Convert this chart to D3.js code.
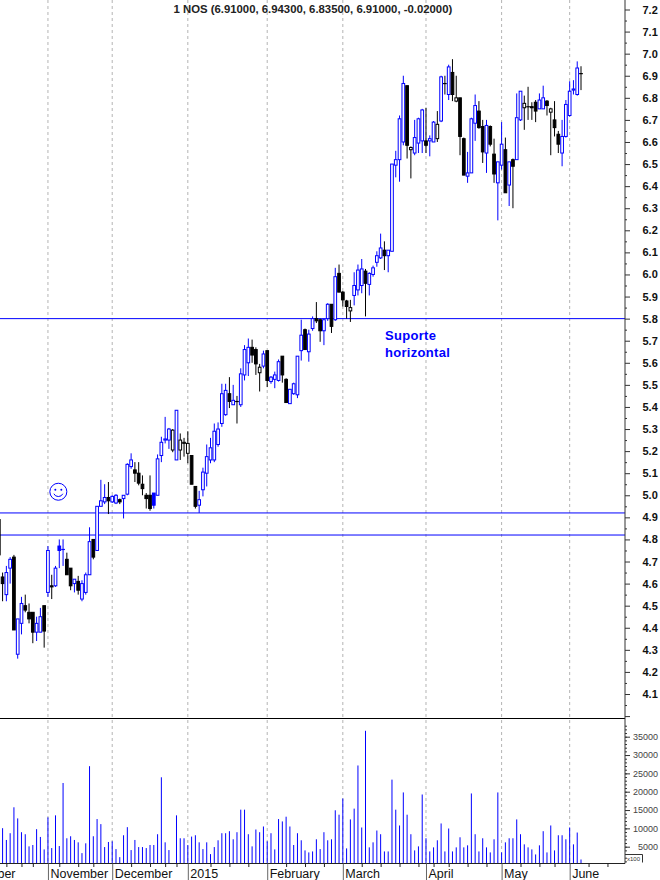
<!DOCTYPE html>
<html>
<head>
<meta charset="utf-8">
<script src="https://cdn.jsdelivr.net/npm/d3@7"></script>
<style>
  html, body { margin: 0; padding: 0; background: #fff; overflow: hidden; }
  svg { display: block; }
</style>
</head>
<body>
<div id="chart"></div>
<script>
/* Price series, one entry per session slot */
const opens = [4.89,4.63,4.55,4.67,4.72,4.28,4.42,4.50,4.47,4.47,4.38,4.38,4.50,4.56,4.59,4.59,4.77,4.755,4.71,4.67,4.60,4.61,4.53,4.56,4.64,4.80,4.75,4.95,4.97,4.99,4.97,4.965,4.98,4.985,5.005,5.13,5.115,5.10,5.05,5.00,5.00,5.01,5.00,5.18,5.25,5.25,5.205,5.16,5.205,5.235,5.19,5.18,5.04,4.955,5.025,5.10,5.16,5.16,5.23,5.325,5.365,5.46,5.41,5.425,5.41,5.545,5.60,5.67,5.66,5.555,5.585,5.655,5.515,5.525,5.52,5.63,5.525,5.415,5.46,5.455,5.655,5.75,5.65,5.755,5.80,5.795,5.745,5.80,5.865,5.795,6.005,5.92,5.88,5.835,5.905,5.93,5.95,6.015,5.955,6.00,6.055,6.075,6.11,6.085,6.105,6.495,6.52,6.60,6.855,6.565,6.55,6.595,6.605,6.605,6.605,6.60,6.615,6.695,6.865,6.815,6.915,6.785,6.80,6.615,6.445,6.46,6.685,6.74,6.67,6.55,6.67,6.545,6.415,6.495,6.565,6.405,6.52,6.52,6.70,6.755,6.76,6.76,6.78,6.75,6.75,6.785,6.735,6.70,6.635,6.55,6.625,6.72,6.835,6.815,6.91];
const highs = [4.89,4.65,4.68,4.72,4.73,4.44,4.54,4.55,4.51,4.47,4.45,4.49,4.50,4.77,4.64,4.68,4.80,4.80,4.74,4.67,4.62,4.635,4.615,4.65,4.855,4.80,4.95,5.07,5.05,5.06,5.00,5.005,4.985,5.00,5.145,5.19,5.15,5.15,5.09,5.01,5.09,5.01,5.185,5.265,5.355,5.305,5.30,5.385,5.28,5.26,5.29,5.18,5.04,5.02,5.125,5.23,5.26,5.325,5.33,5.505,5.505,5.535,5.50,5.45,5.575,5.68,5.71,5.705,5.67,5.595,5.655,5.655,5.54,5.56,5.615,5.63,5.53,5.48,5.51,5.63,5.795,5.755,5.75,5.81,5.875,5.80,5.80,5.87,5.865,6.03,6.045,5.925,5.885,5.885,6.01,6.045,6.07,6.025,6.01,6.04,6.105,6.185,6.15,6.11,6.50,6.56,6.72,6.90,6.855,6.58,6.70,6.71,6.75,6.755,6.63,6.695,6.74,6.90,6.90,6.95,6.975,6.90,6.80,6.62,6.555,6.71,6.815,6.785,6.70,6.70,6.675,6.615,6.51,6.69,6.62,6.51,6.525,6.82,6.83,6.81,6.85,6.78,6.79,6.82,6.855,6.79,6.755,6.785,6.65,6.70,6.79,6.875,6.88,6.965,6.943];
const lows = [4.73,4.52,4.52,4.60,4.39,4.26,4.37,4.47,4.42,4.33,4.34,4.38,4.31,4.54,4.53,4.585,4.67,4.68,4.64,4.57,4.56,4.55,4.52,4.55,4.64,4.71,4.75,4.95,4.96,4.915,4.965,4.96,4.96,4.895,5.00,5.12,5.06,5.045,5.00,4.94,4.93,4.94,5.00,5.15,5.235,5.21,5.195,5.16,5.16,5.175,5.145,5.05,4.94,4.92,4.995,5.04,5.145,5.15,5.22,5.31,5.36,5.395,5.41,5.325,5.40,5.52,5.54,5.60,5.545,5.47,5.575,5.49,5.505,5.485,5.515,5.51,5.42,5.415,5.455,5.44,5.61,5.66,5.605,5.745,5.78,5.695,5.68,5.79,5.735,5.79,5.92,5.855,5.80,5.785,5.86,5.905,5.915,5.81,5.905,5.99,6.035,6.07,6.02,6.01,6.105,6.44,6.42,6.585,6.525,6.435,6.54,6.55,6.55,6.55,6.535,6.60,6.60,6.69,6.815,6.79,6.785,6.78,6.54,6.45,6.415,6.46,6.605,6.66,6.505,6.46,6.58,6.415,6.245,6.475,6.37,6.31,6.30,6.52,6.695,6.655,6.70,6.70,6.69,6.75,6.75,6.72,6.54,6.625,6.55,6.49,6.62,6.715,6.815,6.81,6.835];
const closes = [4.73,4.60,4.65,4.71,4.39,4.44,4.51,4.48,4.44,4.38,4.42,4.45,4.385,4.75,4.585,4.67,4.75,4.755,4.64,4.59,4.62,4.57,4.60,4.64,4.79,4.72,4.95,4.975,4.99,4.975,4.995,5.00,4.97,5.00,5.14,5.16,5.10,5.055,5.03,4.985,4.94,4.955,5.165,5.24,5.255,5.30,5.295,5.385,5.25,5.24,5.235,5.05,4.95,4.98,5.105,5.175,5.215,5.29,5.30,5.46,5.475,5.425,5.43,5.425,5.55,5.66,5.67,5.635,5.595,5.58,5.64,5.52,5.535,5.545,5.605,5.545,5.42,5.48,5.505,5.63,5.725,5.66,5.73,5.80,5.79,5.745,5.795,5.865,5.765,5.99,5.92,5.885,5.855,5.85,5.95,6.02,6.025,5.96,6.005,6.03,6.085,6.12,6.085,6.11,6.50,6.52,6.705,6.865,6.585,6.575,6.62,6.705,6.745,6.585,6.615,6.69,6.68,6.895,6.865,6.94,6.815,6.80,6.625,6.45,6.46,6.705,6.765,6.665,6.555,6.675,6.59,6.455,6.51,6.59,6.37,6.51,6.49,6.71,6.83,6.775,6.76,6.755,6.74,6.79,6.80,6.765,6.75,6.665,6.59,6.625,6.77,6.83,6.84,6.935,6.91];
const volumes = [null,10050,6840,8680,15750,12720,8950,8400,5090,5460,9780,7660,4260,13000,4630,13550,5180,22370,7300,7850,6840,6190,3250,5920,26960,7850,12540,11160,4900,6290,6470,4350,2150,8120,10330,4080,6840,4900,4900,4630,5460,5460,8400,23930,6190,4080,null,13550,7300,7300,5460,7760,8120,6190,4350,6190,2980,4900,6750,8680,8680,9230,7020,8950,15100,15100,8400,5090,9690,8950,10510,6470,8680,4260,12540,11890,13180,10510,5460,8680,6750,3990,3440,3710,7020,4350,8950,6750,7020,14930,13730,18140,4540,12440,15380,27150,10240,36610,4820,6190,9410,8400,3710,3710,23290,15100,10790,19800,13730,8400,3990,5090,19240,7300,3710,4820,6750,11340,3710,9960,3710,4820,7570,4820,5370,19520,8400,3710,7300,4820,3440,7020,19800,3440,6190,7300,7300,12440,8400,5640,4820,4260,2890,5370,9230,3440,10790,3990,8120,8120,7020,10240,5640,8860,1510];

/* Time axis */
const monthLabels = ['October', 'November', 'December', '2015', 'February', 'March', 'April', 'May', 'June'];
const monthSlots = [-8, 13, 30, 50, 71, 91, 113, 133, 151];
const weekSlots = [2, 6, 9, 16, 21, 25, 35, 40, 44, 47, 56, 61, 66, 76, 81, 86, 96, 101, 106, 111, 115, 119, 124, 129, 138, 143, 147, 156, 161];

/* Value axes */
const priceTicks = [7.2, 7.1, 7.0, 6.9, 6.8, 6.7, 6.6, 6.5, 6.4, 6.3, 6.2, 6.1, 6.0, 5.9, 5.8, 5.7, 5.6, 5.5, 5.4, 5.3, 5.2, 5.1, 5.0, 4.9, 4.8, 4.7, 4.6, 4.5, 4.4, 4.3, 4.2, 4.1];
const volumeTicks = [35000, 30000, 25000, 20000, 15000, 10000, 5000];

/* Annotations */
const supportLevels = [5.8, 4.92, 4.82];
const supportLabel = ['Suporte', 'horizontal'];
const title = '1 NOS (6.91000, 6.94300, 6.83500, 6.91000, -0.02000)';

const width = 660;
const height = 880;
const axisX = 625;
const volumeTop = 718.5;
const baseY = 863.5;
const BLUE = '#0000ff';

const x = d3.scaleLinear().domain([0, 154]).range([-1.2, 581]);
const yPrice = d3.scaleLinear().domain([4.1, 7.2]).range([694, 9.5]);
const yVolume = d3.scaleLinear().domain([5000, 35000]).range([846.7, 736.7]);

const svg = d3.select('#chart')
  .append('svg')
  .attr('width', width)
  .attr('height', height)
  .style('font-family', '"Liberation Sans", Arial, sans-serif');

drawGrid();
drawSupportLines();
drawCandles();
drawVolume();
drawPriceAxis();
drawVolumeAxis();
drawTimeAxis();
drawTexts();
drawSmiley(15.75, 5.016);

function drawGrid () {
  svg.append('g')
    .selectAll('line')
    .data(monthSlots)
    .join('line')
    .attr('x1', d => x(d))
    .attr('x2', d => x(d))
    .attr('y1', 0)
    .attr('y2', baseY)
    .attr('stroke', '#b4b4b4')
    .attr('stroke-dasharray', '3,3');
}

function drawSupportLines () {
  svg.append('g')
    .selectAll('line')
    .data(supportLevels)
    .join('line')
    .attr('x1', 0)
    .attr('x2', axisX)
    .attr('y1', d => yPrice(d))
    .attr('y2', d => yPrice(d))
    .attr('stroke', BLUE);
}

function drawCandles () {
  const bars = closes.map((close, i) => ({
    i,
    open: opens[i],
    high: highs[i],
    low: lows[i],
    close,
    // colour follows the previous close, fill follows the open
    color: i > 0 && close > closes[i - 1] ? BLUE : '#000'
  }));

  const candle = svg.append('g')
    .selectAll('g')
    .data(bars)
    .join('g');

  candle.append('line')
    .attr('x1', d => x(d.i))
    .attr('x2', d => x(d.i))
    .attr('y1', d => yPrice(d.high))
    .attr('y2', d => yPrice(d.low))
    .attr('stroke', d => d.color);

  candle.append('rect')
    .attr('x', d => x(d.i) - 1.35)
    .attr('width', 2.7)
    .attr('y', d => yPrice(Math.max(d.open, d.close)))
    .attr('height', d => Math.max(0.2, Math.abs(yPrice(d.open) - yPrice(d.close))))
    .attr('fill', d => d.close < d.open ? d.color : '#fff')
    .attr('stroke', d => d.color);
}

function drawVolume () {
  svg.append('g')
    .selectAll('line')
    .data(volumes.map((v, i) => ({ v, i })).filter(d => d.v !== null))
    .join('line')
    .attr('x1', d => x(d.i))
    .attr('x2', d => x(d.i))
    .attr('y1', d => yVolume(d.v))
    .attr('y2', baseY)
    .attr('stroke', BLUE);

  svg.append('line')
    .attr('x1', 0)
    .attr('x2', axisX)
    .attr('y1', volumeTop)
    .attr('y2', volumeTop)
    .attr('stroke', '#000');
}

function styleAxis (g, color) {
  g.select('.domain').remove();
  g.selectAll('line').attr('stroke', color);
}

function drawPriceAxis () {
  const axis = svg.append('g').attr('transform', `translate(${axisX},0)`);

  axis.append('g')
    .call(d3.axisRight(yPrice).tickValues(d3.range(4.05, 7.2, 0.1)).tickSize(2).tickFormat(''))
    .call(styleAxis, '#333');

  axis.append('g')
    .call(d3.axisRight(yPrice).tickValues(priceTicks.concat(4.0)).tickSize(5).tickFormat(d => d === 4 ? '' : d.toFixed(1)))
    .call(styleAxis, '#333')
    .call(g => g.selectAll('text')
      .attr('x', 17.5)
      .attr('font-size', 11)
      .attr('font-weight', 'bold')
      .attr('font-family', '"Liberation Sans", Arial, sans-serif')
      .attr('fill', '#111'));

  axis.append('line')
    .attr('y1', 0)
    .attr('y2', baseY)
    .attr('stroke', '#333');
}

function drawVolumeAxis () {
  const axis = svg.append('g').attr('transform', `translate(${axisX},0)`);

  axis.append('g')
    .call(d3.axisRight(yVolume).tickValues(d3.range(1000, 39000, 1000)).tickSize(2).tickFormat(''))
    .call(styleAxis, '#333');

  axis.append('g')
    .call(d3.axisRight(yVolume).tickValues(volumeTicks).tickSize(5).tickFormat(d => d))
    .call(styleAxis, '#333')
    .call(g => g.selectAll('text')
      .attr('x', 33)
      .attr('text-anchor', 'end')
      .attr('font-size', 9)
      .attr('font-family', '"Liberation Sans", Arial, sans-serif')
      .attr('fill', '#444'));

  // multiplier box in the corner
  svg.append('path')
    .attr('d', `M${axisX},854.5H642.5V862.5`)
    .attr('fill', 'none')
    .attr('stroke', '#333');

  svg.append('text')
    .attr('x', 627)
    .attr('y', 861)
    .attr('font-size', 6)
    .attr('fill', '#333')
    .text('x100');
}

function drawTimeAxis () {
  svg.append('line')
    .attr('x1', 0)
    .attr('x2', axisX)
    .attr('y1', baseY)
    .attr('y2', baseY)
    .attr('stroke', '#222');

  svg.append('g')
    .attr('transform', `translate(0,${baseY})`)
    .call(d3.axisBottom(x).tickValues(weekSlots).tickSize(3.5).tickFormat(''))
    .call(styleAxis, '#222');

  const monthAxis = svg.append('g')
    .attr('transform', `translate(0,${baseY})`)
    .call(d3.axisBottom(x).tickValues(monthSlots).tickSize(17).tickFormat((d, i) => monthLabels[i]))
    .call(styleAxis, '#666');

  monthAxis.selectAll('text')
    .attr('x', 2)
    .attr('y', 6)
    .attr('text-anchor', 'start')
    .attr('font-size', 12.5)
    .attr('font-family', '"Liberation Sans", Arial, sans-serif')
    .attr('fill', '#111');
}

function drawTexts () {
  svg.append('text')
    .attr('x', 173.5)
    .attr('y', 13)
    .attr('font-size', 11.35)
    .attr('font-weight', 'bold')
    .attr('fill', '#222')
    .text(title);

  svg.append('g')
    .selectAll('text')
    .data(supportLabel)
    .join('text')
    .attr('x', 385)
    .attr('y', (d, i) => 340 + i * 17.3)
    .attr('font-size', 13)
    .attr('font-weight', 'bold')
    .attr('letter-spacing', 0.3)
    .attr('fill', BLUE)
    .text(d => d);
}

function drawSmiley (slot, price) {
  const face = svg.append('g')
    .attr('transform', `translate(${x(slot)},${yPrice(price)})`)
    .attr('fill', 'none')
    .attr('stroke', BLUE);

  face.append('circle').attr('r', 8.5);
  face.selectAll('.eye')
    .data([-3, 3])
    .join('circle')
    .attr('class', 'eye')
    .attr('cx', d => d)
    .attr('cy', -2)
    .attr('r', 1)
    .attr('fill', BLUE)
    .attr('stroke', 'none');
  face.append('path').attr('d', 'M-4.5,2A5,5 0 0 0 4.5,2');
}
</script>
</body>
</html>
